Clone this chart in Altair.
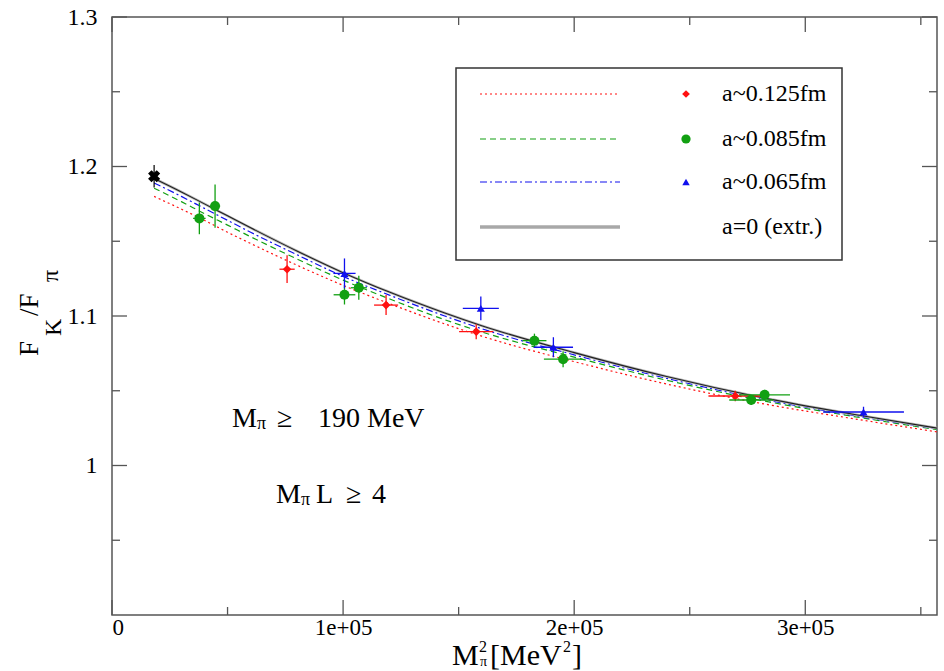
import altair as alt
import pandas as pd

# ---------------- data ----------------
curve_x = [18225, 30000, 40000, 50000, 60000, 80000, 100000, 120000, 144000,
           160000, 200000, 240000, 280000, 320000, 357000]
curve_extr = [1.192, 1.183, 1.175, 1.167, 1.159, 1.1435, 1.129, 1.116, 1.102,
              1.0935, 1.0755, 1.0595, 1.0458, 1.0345, 1.025]
curve_065 = [1.189, 1.180, 1.172, 1.164, 1.156, 1.141, 1.1265, 1.114, 1.100,
             1.0915, 1.074, 1.0583, 1.0448, 1.0337, 1.0245]
curve_085 = [1.1855, 1.1765, 1.1685, 1.1608, 1.153, 1.1382, 1.124, 1.1115, 1.0975,
             1.0893, 1.0725, 1.0570, 1.0438, 1.0330, 1.0240]
curve_125 = [1.180, 1.1715, 1.164, 1.156, 1.1485, 1.134, 1.1205, 1.1083, 1.0947,
             1.0865, 1.0695, 1.0545, 1.0418, 1.0315, 1.0225]

red_x = [75760, 118600, 157600, 269700]
red_y = [1.1313, 1.1073, 1.0895, 1.0465]
red_xerr = [3300, 5200, 7400, 11600]
red_yerr = [0.0093, 0.0067, 0.005, 0.0035]

green_x = [37800, 44600, 100600, 106800, 182800, 195200, 276600, 282400]
green_y = [1.1653, 1.1735, 1.1142, 1.1189, 1.0835, 1.0711, 1.0438, 1.0473]
green_xerr = [2700, 2200, 4700, 3500, 5200, 8300, 9500, 11000]
green_yerr = [0.0106, 0.0145, 0.0065, 0.008, 0.0047, 0.0053, 0.0033, 0.0033]

blue_x = [100600, 159600, 191000, 325200]
blue_y = [1.1285, 1.1051, 1.0791, 1.0358]
blue_xerr = [4800, 7800, 8500, 17500]
blue_yerr = [0.010, 0.008, 0.0067, 0.0035]

phys_x = [18225]
phys_y = [1.1935]
phys_yerr = [0.0075]

x_major = [0, 100000, 200000, 300000]
x_minor = [50000, 150000, 250000, 350000]
y_major = [1.0, 1.1, 1.2, 1.3]
y_minor = [0.95, 1.05, 1.15, 1.25]

legend_labels = ["a~0.125fm", "a~0.085fm", "a~0.065fm", "a=0 (extr.)"]

# ---------------- layout ----------------
W, H = 825, 598
PL, PT = 112, 17
FONT = "Liberation Serif"
RED, GREEN, BLUE = "#ff1010", "#12a012", "#1010ee"

xs = alt.Scale(domain=[0, 357000], nice=False, zero=False)
ys = alt.Scale(domain=[0.9, 1.3], nice=False, zero=False)

one = pd.DataFrame({"d": [0]})


def ax(x, y):
    return alt.value(x - PL), alt.value(y - PT)


base_axes = alt.Chart(one).mark_point(opacity=0).encode(
    x=alt.X("d:Q", scale=xs, axis=alt.Axis(
        values=x_major, ticks=False, domain=False, grid=False, title=None,
        labelFont=FONT, labelFontSize=23, labelColor="black", labelPadding=1,
        labelExpr="datum.value == 0 ? '0' : (datum.value / 100000) + 'e+05'")),
    y=alt.Y("d:Q", scale=ys, axis=alt.Axis(
        values=y_major, ticks=False, domain=False, grid=False, title=None,
        labelFont=FONT, labelFontSize=24, labelColor="black", labelPadding=15,
        labelExpr="datum.value == 1 ? '1' : format(datum.value, '.1f')")),
)

layers = [base_axes]

# inward ticks
TC = "#555555"
def xticks(vals, length):
    df = pd.DataFrame({"v": vals})
    b = alt.Chart(df).mark_rule(color=TC, strokeWidth=1.3).encode(
        x=alt.X("v:Q", scale=xs), y=alt.value(H), y2=alt.value(H - length))
    t = alt.Chart(df).mark_rule(color=TC, strokeWidth=1.3).encode(
        x=alt.X("v:Q", scale=xs), y=alt.value(0), y2=alt.value(length))
    return [b, t]

def yticks(vals, length):
    df = pd.DataFrame({"v": vals})
    l = alt.Chart(df).mark_rule(color=TC, strokeWidth=1.3).encode(
        y=alt.Y("v:Q", scale=ys), x=alt.value(0), x2=alt.value(length))
    r = alt.Chart(df).mark_rule(color=TC, strokeWidth=1.3).encode(
        y=alt.Y("v:Q", scale=ys), x=alt.value(W), x2=alt.value(W - length))
    return [l, r]

layers += xticks(x_major, 15) + xticks(x_minor, 8)
layers += yticks(y_major, 15) + yticks(y_minor, 8)

# curves
cdf = pd.DataFrame({"x": curve_x, "extr": curve_extr, "c065": curve_065,
                    "c085": curve_085, "c125": curve_125})

def curve(col, **kw):
    return alt.Chart(cdf).mark_line(interpolate="monotone", **kw).encode(
        x=alt.X("x:Q", scale=xs), y=alt.Y(f"{col}:Q", scale=ys))

layers += [
    curve("c125", color=RED, strokeWidth=1.2, strokeDash=[2, 3]),
    curve("c085", color=GREEN, strokeWidth=1.2, strokeDash=[6, 4]),
    curve("c065", color=BLUE, strokeWidth=1.2, strokeDash=[7, 3, 2, 3]),
    curve("extr", color="#b8b8b8", strokeWidth=2.6),
    curve("extr", color="#202020", strokeWidth=1.1),
]

# data points with error bars
def series(xv, yv, xe, ye, color, shape, size):
    df = pd.DataFrame({"x": xv, "y": yv, "xe": xe, "ye": ye})
    df["xlo"] = df["x"] - df["xe"]
    df["xhi"] = df["x"] + df["xe"]
    df["ylo"] = df["y"] - df["ye"]
    df["yhi"] = df["y"] + df["ye"]
    c = alt.Chart(df)
    h = c.mark_rule(color=color, strokeWidth=1.3).encode(
        x=alt.X("xlo:Q", scale=xs), x2="xhi:Q", y=alt.Y("y:Q", scale=ys))
    v = c.mark_rule(color=color, strokeWidth=1.3).encode(
        x=alt.X("x:Q", scale=xs), y=alt.Y("ylo:Q", scale=ys), y2="yhi:Q")
    p = c.mark_point(shape=shape, filled=True, size=size, color=color, opacity=1).encode(
        x=alt.X("x:Q", scale=xs), y=alt.Y("y:Q", scale=ys))
    return [h, v, p]

layers += series(red_x, red_y, red_xerr, red_yerr, RED, "diamond", 75)
layers += series(green_x, green_y, green_xerr, green_yerr, GREEN, "circle", 100)
layers += series(blue_x, blue_y, blue_xerr, blue_yerr, BLUE, "triangle-up", 65)

pdf = pd.DataFrame({"x": phys_x, "y": phys_y, "ye": phys_yerr})
pdf["ylo"] = pdf["y"] - pdf["ye"]
pdf["yhi"] = pdf["y"] + pdf["ye"]
layers += [
    alt.Chart(pdf).mark_rule(color="black", strokeWidth=1.2).encode(
        x=alt.X("x:Q", scale=xs), y=alt.Y("ylo:Q", scale=ys), y2="yhi:Q"),
    alt.Chart(pdf).mark_point(shape="cross", angle=45, filled=True, size=150,
                              color="black", opacity=1).encode(
        x=alt.X("x:Q", scale=xs), y=alt.Y("y:Q", scale=ys)),
]

# legend box
bx0, by0 = ax(456, 68)
bx1, by1 = ax(842, 260)
layers.append(alt.Chart(one).mark_rect(fill="white", stroke="#333333", strokeWidth=1.5).encode(
    x=bx0, x2=bx1, y=by0, y2=by1))

leg_rows = [94, 139, 182, 227]
leg_styles = [
    dict(color=RED, strokeWidth=1.2, strokeDash=[2, 3]),
    dict(color=GREEN, strokeWidth=1.2, strokeDash=[6, 4]),
    dict(color=BLUE, strokeWidth=1.2, strokeDash=[7, 3, 2, 3]),
    dict(color="#a8a8a8", strokeWidth=3.5),
]
leg_marks = [("diamond", RED, 60), ("circle", GREEN, 85), ("triangle-up", BLUE, 55)]
for i, (row, st) in enumerate(zip(leg_rows, leg_styles)):
    lx0, ly = ax(480, row)
    lx1, _ = ax(620, row)
    layers.append(alt.Chart(one).mark_rule(**st).encode(x=lx0, x2=lx1, y=ly))
    if i < 3:
        shp, col, sz = leg_marks[i]
        mx, my = ax(686, row)
        layers.append(alt.Chart(one).mark_point(shape=shp, color=col, filled=True,
                                                size=sz, opacity=1).encode(x=mx, y=my))
    tx, ty = ax(722, row)
    layers.append(alt.Chart(one).mark_text(text=legend_labels[i], font=FONT, fontSize=24,
                                           align="left", baseline="middle",
                                           color="black").encode(x=tx, y=ty))

# annotations
def txt(s, x, y, size, **kw):
    px, py = ax(x, y)
    return alt.Chart(one).mark_text(text=s, font=FONT, fontSize=size, align="left",
                                    baseline="alphabetic", color="black", **kw).encode(x=px, y=py)

layers += [
    txt("M", 232, 427, 28), txt("π", 257, 429, 18), txt("≥", 277, 427, 28),
    txt("190 MeV", 318, 427, 28),
    txt("M", 276, 503, 28), txt("π", 301, 505, 18), txt("L", 316, 503, 28),
    txt("≥", 346, 503, 28), txt("4", 372, 503, 28),
]

# x-axis title pieces
layers += [
    txt("M", 452, 665, 30), txt("2", 479, 652, 16), txt("π", 480, 666, 14),
    txt("[MeV", 490, 665, 30), txt("2", 563, 652, 16), txt("]", 572, 665, 30),
]

# y-axis title pieces (rotated)
def rtxt(s, x, y, size):
    px, py = ax(x, y)
    return alt.Chart(one).mark_text(text=s, font=FONT, fontSize=size, align="left",
                                    baseline="alphabetic", angle=270,
                                    color="black").encode(x=px, y=py)

layers += [
    rtxt("F", 38, 356, 27), rtxt("K", 61, 336, 24), rtxt("/F", 38, 316, 27),
    rtxt("π", 58, 282, 24),
]

chart = alt.layer(*layers).properties(
    width=W, height=H,
    autosize=alt.AutoSizeParams(type="none"),
    padding={"left": PL, "top": PT, "right": 944 - PL - W, "bottom": 671 - PT - H},
    background="white",
).configure_view(stroke="#555555", strokeWidth=1.5)

chart.save("out.html", embed_options={"renderer": "svg", "actions": False})
